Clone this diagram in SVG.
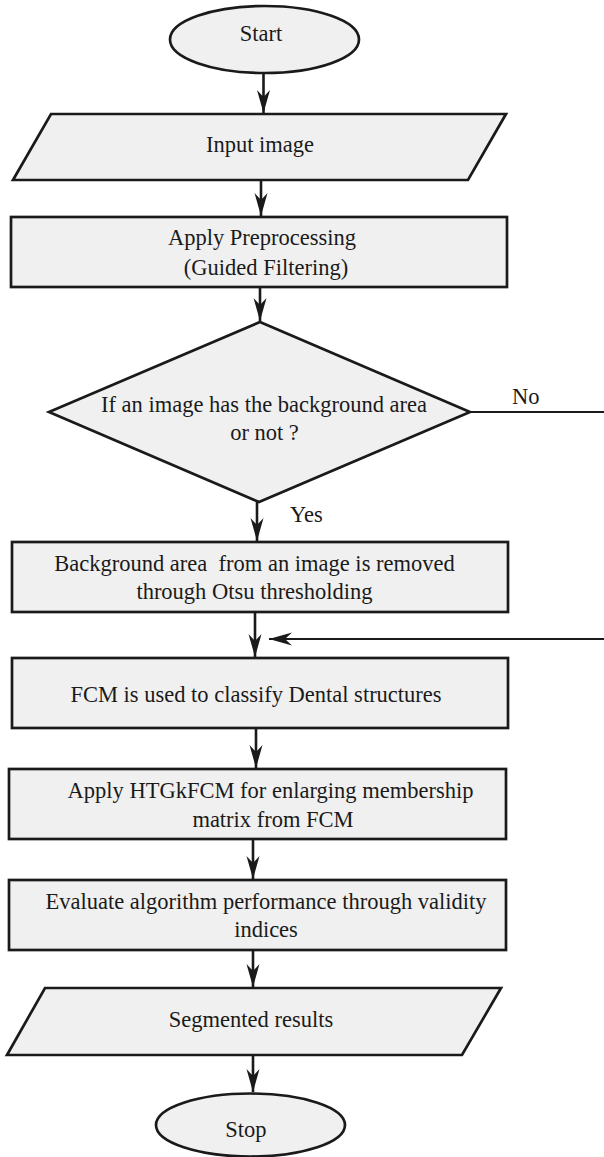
<svg xmlns="http://www.w3.org/2000/svg" width="604" height="1157" viewBox="0 0 604 1157">
<style>
.shape{fill:#f0f0f0;stroke:#1a1a1a;stroke-width:2.7}
.t{font-family:'Liberation Serif','Tinos','Times New Roman',serif;font-size:22.5px;fill:#1a1a1a;text-anchor:middle}
.lbl{font-family:'Liberation Serif','Tinos','Times New Roman',serif;font-size:22.5px;fill:#1a1a1a}
.c{fill:none;stroke:#1a1a1a;stroke-width:2.6}
.thin{fill:none;stroke:#1a1a1a;stroke-width:1.8}
</style>
<defs>
<marker id="ah" markerUnits="userSpaceOnUse" markerWidth="26" markerHeight="16" viewBox="-24 -8 25 16" refX="0" refY="0" orient="auto">
<path d="M0,0 L-23,-6.5 L-16,0 L-23,6.5 Z" fill="#1a1a1a"/>
</marker>
</defs>
<rect width="604" height="1157" fill="#ffffff"/>
<g id="start">
<ellipse class="shape" cx="264.5" cy="39.5" rx="94.5" ry="33.5"/>
<text class="t" x="261" y="41">Start</text>
</g>
<g id="input">
<polygon class="shape" points="51,114 506,114 468,180 13,180"/>
<text class="t" x="260" y="152">Input image</text>
</g>
<g id="preprocess">
<rect class="shape" x="11" y="217" width="496" height="70"/>
<text class="t" x="262" y="245">Apply Preprocessing</text>
<text class="t" x="266" y="275">(Guided Filtering)</text>
</g>
<g id="decision">
<polygon class="shape" points="260,322 470,412 259,502 49,412"/>
<text class="t" x="264" y="412">If an image has the background area</text>
<text class="t" x="264.5" y="440">or not ?</text>
</g>
<g id="otsu">
<rect class="shape" x="12" y="542" width="496" height="70"/>
<text class="t" x="254.5" y="571" xml:space="preserve">Background area  from an image is removed</text>
<text class="t" x="254.5" y="599">through Otsu thresholding</text>
</g>
<g id="fcm">
<rect class="shape" x="12" y="658" width="496" height="70"/>
<text class="t" x="256" y="702">FCM is used to classify Dental structures</text>
</g>
<g id="htgkfcm">
<rect class="shape" x="9" y="769" width="497" height="70"/>
<text class="t" x="270.5" y="798">Apply HTGkFCM for enlarging membership</text>
<text class="t" x="273" y="827">matrix from FCM</text>
</g>
<g id="evaluate">
<rect class="shape" x="9" y="880" width="497" height="70"/>
<text class="t" x="266" y="909">Evaluate algorithm performance through validity</text>
<text class="t" x="266" y="937">indices</text>
</g>
<g id="segmented">
<polygon class="shape" points="45,988 501,988 462,1055 7,1055"/>
<text class="t" x="251" y="1027">Segmented results</text>
</g>
<g id="stop">
<ellipse class="shape" cx="250.5" cy="1125" rx="94.5" ry="31.5"/>
<text class="t" x="246" y="1137">Stop</text>
</g>
<g id="connectors">
<line class="c" x1="263.5" y1="73" x2="263.5" y2="113" marker-end="url(#ah)"/>
<line class="c" x1="261" y1="181" x2="261" y2="216" marker-end="url(#ah)"/>
<line class="c" x1="260" y1="288" x2="260" y2="321" marker-end="url(#ah)"/>
<line class="c" x1="257" y1="502" x2="257" y2="541" marker-end="url(#ah)"/>
<line class="c" x1="255" y1="613" x2="255" y2="657" marker-end="url(#ah)"/>
<line class="c" x1="256" y1="729" x2="256" y2="768" marker-end="url(#ah)"/>
<line class="c" x1="253" y1="840" x2="253" y2="879" marker-end="url(#ah)"/>
<line class="c" x1="253" y1="951" x2="253" y2="987" marker-end="url(#ah)"/>
<line class="c" x1="253" y1="1056" x2="253" y2="1092" marker-end="url(#ah)"/>
<line class="thin" x1="470" y1="412" x2="604" y2="412"/>
<line class="thin" x1="604" y1="639" x2="269" y2="639" marker-end="url(#ah)"/>
<text class="lbl" x="512" y="404">No</text>
<text class="lbl" x="290" y="522">Yes</text>
</g>
</svg>
